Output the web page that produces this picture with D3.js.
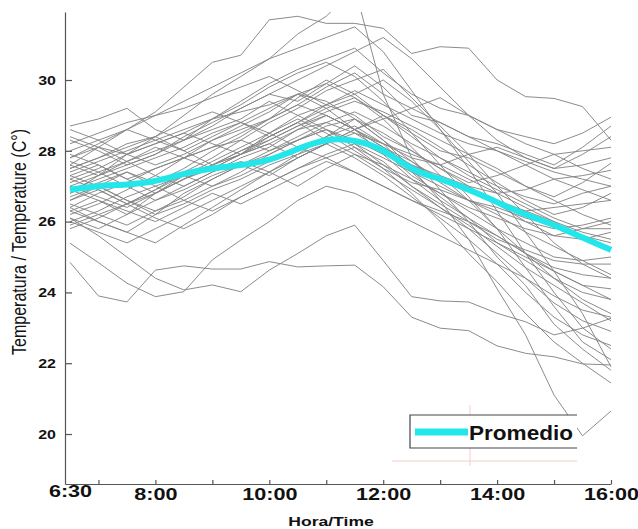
<!DOCTYPE html>
<html>
<head>
<meta charset="utf-8">
<script src="https://cdn.jsdelivr.net/npm/d3@7/dist/d3.min.js"></script>
<style>
  html, body { margin: 0; padding: 0; background: #ffffff; }
  svg { display: block; }
  text { font-family: "Liberation Sans", Arial, Helvetica, sans-serif; fill: #111; }
</style>
</head>
<body>
<div id="chart"></div>
<script>
// ---------- data ----------
const times = ["6:30","7:00","7:30","8:00","8:30","9:00","9:30","10:00","10:30","11:00",
               "11:30","12:00","12:30","13:00","13:30","14:00","14:30","15:00","15:30","16:00"];

const meanTemps = [26.9,27.0,27.05,27.15,27.35,27.5,27.6,27.75,28.05,28.3,
                   28.28,28.0,27.5,27.2,26.9,26.55,26.2,25.9,25.55,25.2];

const series = [
  [27.6,28.1,28.6,29.1,29.8,30.5,30.7,31.7,31.8,31.6,31.6,31.46,30.75,30.94,30.9,30.0,29.53,29.48,29.25,28.3],
  [26.8,27.3,27.9,28.4,29.0,29.6,30.1,30.6,31.3,31.8,32.6,29.6,27.8,26.9,26.0,25.0,24.2,23.1,22.4,21.8],
  [24.85,23.9,23.73,24.63,24.75,24.66,24.66,24.87,24.72,24.75,24.77,24.16,23.3,22.99,22.92,22.49,22.28,22.18,21.98,21.95],
  [25.39,24.84,24.26,23.88,24.02,24.92,25.48,26.0,26.6,27.0,26.8,26.4,26.0,25.6,25.2,24.8,24.4,23.9,23.5,23.3],
  [26.1,25.6,25.0,24.4,24.07,24.21,24.02,24.63,25.1,25.6,25.9,24.9,23.88,23.76,23.73,23.41,23.17,22.8,22.99,23.27],
  [27.2,27.5,27.9,28.2,28.5,28.9,29.1,29.3,29.6,29.4,28.9,28.3,27.5,26.6,25.5,24.1,22.8,21.1,19.95,20.65],
  [26.4,26.0,25.7,26.2,26.8,27.2,27.6,27.9,28.3,28.6,28.1,27.5,26.8,26.0,25.1,24.3,23.4,22.6,22.0,21.44],
  [28.7,28.9,29.2,28.6,28.3,28.9,29.4,29.9,30.3,30.6,30.9,30.2,29.6,29.2,29.0,28.6,28.4,28.2,28.5,28.95],
  [28.3,28.0,27.6,27.9,28.4,28.8,29.2,29.6,29.4,29.9,30.4,29.8,29.0,28.8,28.4,28.2,27.9,27.6,28.1,28.7],
  [27.9,27.6,27.2,27.5,27.8,28.1,28.3,28.0,28.4,28.8,28.5,28.2,27.8,27.6,27.9,28.1,27.8,27.5,27.9,28.4],
  [27.5,27.8,28.2,28.4,28.0,27.6,27.9,28.5,29.0,29.3,29.0,28.4,28.0,27.5,27.1,27.3,27.6,27.9,28.0,28.1],
  [26.6,27.0,27.4,27.1,27.5,28.0,28.4,28.9,29.5,30.0,29.6,29.0,28.5,28.0,27.8,27.4,27.0,26.7,27.1,27.65],
  [27.1,27.4,27.7,28.0,28.3,28.6,28.9,29.4,29.0,28.6,28.3,27.9,27.6,27.3,27.0,26.8,26.9,27.2,27.3,27.45],
  [26.3,26.6,26.2,26.8,27.3,27.6,27.9,28.2,28.6,28.8,29.1,28.7,28.2,27.8,27.4,27.0,26.7,26.5,26.8,27.0],
  [27.8,28.1,27.7,27.3,27.0,27.4,27.8,28.1,28.6,29.0,28.6,28.1,27.7,27.2,26.9,26.5,26.3,26.4,26.5,26.6],
  [26.0,26.3,26.7,27.0,27.3,27.0,27.4,27.9,28.3,28.7,28.9,28.3,27.7,27.1,26.6,26.3,26.0,25.8,25.9,26.1],
  [27.3,27.0,26.6,26.3,26.7,27.2,27.6,27.3,27.8,28.2,28.5,28.0,27.3,26.8,26.4,26.1,25.8,25.6,25.5,25.7],
  [26.9,27.2,27.5,27.8,28.1,28.5,28.8,28.5,28.1,27.8,27.4,27.0,26.6,26.3,26.0,25.5,25.2,24.9,24.8,24.8],
  [26.2,26.5,26.9,27.3,27.8,28.3,28.7,29.1,29.6,29.2,28.6,27.9,27.2,26.6,26.1,25.6,25.1,24.7,24.5,24.4],
  [27.7,27.4,27.0,26.6,26.9,27.3,27.6,28.0,28.3,28.6,28.2,27.6,27.0,26.5,26.0,25.6,25.1,24.6,24.2,24.1],
  [26.5,26.2,25.9,26.3,26.6,27.0,27.3,27.7,28.0,28.4,28.7,28.2,27.4,26.7,26.1,25.4,24.9,24.4,24.0,23.8],
  [27.0,26.7,26.4,26.8,27.2,27.5,27.9,28.4,28.8,29.2,29.5,28.9,28.1,27.3,26.6,25.8,25.1,24.4,23.8,23.4],
  [25.9,26.2,26.5,26.1,25.8,26.2,26.7,27.1,27.5,27.8,28.1,27.7,27.0,26.4,25.8,25.1,24.4,23.7,23.2,22.9],
  [26.7,27.0,26.6,26.2,26.5,26.9,27.2,27.6,27.9,28.2,27.8,27.3,26.7,26.1,25.5,24.8,24.0,23.3,22.8,22.5],
  [27.4,27.7,28.0,28.3,28.6,28.9,29.3,29.8,30.2,30.5,30.1,29.4,28.5,27.6,26.7,25.8,24.7,23.6,22.6,22.1],
  [28.2,28.5,28.8,29.0,29.2,29.5,29.8,30.1,29.7,29.3,29.6,30.0,29.4,28.6,27.7,26.8,25.7,24.6,23.4,21.9],
  [27.0,27.3,27.6,27.9,28.3,28.7,29.2,29.6,30.0,30.4,30.8,31.2,30.6,29.8,29.0,28.3,27.8,27.5,27.6,27.8],
  [26.4,26.8,27.1,27.5,27.8,28.1,28.5,28.9,29.3,29.8,30.2,29.6,29.2,29.5,29.0,28.6,28.2,27.9,27.5,27.2],
  [28.4,28.1,27.9,28.2,28.5,28.2,27.9,28.3,28.7,29.1,29.4,29.1,28.7,28.3,27.9,27.5,27.0,26.6,26.2,25.9],
  [25.8,26.1,26.5,26.9,27.3,27.7,28.1,28.5,28.9,28.5,28.0,27.5,27.1,26.9,26.6,26.4,26.1,25.9,25.6,25.4],
  [27.6,27.3,27.7,28.1,27.8,27.5,27.9,28.2,27.8,28.2,28.6,28.1,27.6,27.2,26.9,26.6,26.3,26.0,25.7,25.5],
  [26.6,26.9,26.5,26.8,27.2,27.6,28.0,28.3,28.7,29.0,28.6,28.2,27.9,27.6,27.2,26.8,26.4,26.0,25.5,25.2],
  [27.2,26.9,26.5,26.9,27.4,27.8,28.3,28.8,29.2,29.7,30.0,30.3,29.5,28.7,27.9,27.0,26.2,25.4,24.8,24.4],
  [28.0,28.3,28.6,28.3,28.0,28.4,28.8,29.2,29.6,29.9,29.5,29.0,28.4,27.8,27.3,26.9,26.5,26.1,25.8,25.8],
  [26.1,25.8,26.2,26.6,27.0,27.4,27.7,27.4,27.0,27.5,27.9,27.6,27.2,26.8,26.3,25.8,25.4,25.0,24.9,25.0],
  [27.5,27.8,28.1,28.4,28.8,29.1,28.8,28.4,28.8,29.3,29.7,29.3,28.9,28.5,28.2,28.0,27.7,27.4,27.2,27.0],
  [26.3,26.0,25.7,25.4,25.9,26.4,26.9,27.4,27.9,28.4,28.9,28.5,28.0,27.5,27.0,26.5,26.0,25.6,25.8,26.0],
  [26.8,27.1,27.4,27.0,26.6,26.3,26.7,27.1,27.5,27.9,28.2,27.8,27.4,27.0,26.6,26.2,25.7,25.3,24.9,24.5],
  [27.3,27.6,27.2,26.8,27.2,27.6,28.0,28.4,28.8,28.3,27.9,27.4,26.9,26.4,25.9,25.3,24.7,24.2,23.7,23.2],
  [27.8,28.2,28.6,29.0,29.4,29.8,30.2,30.6,30.9,31.2,31.5,30.8,29.7,28.6,27.5,26.3,25.1,24.0,23.0,22.4],
  [26.0,25.7,25.4,25.8,26.2,26.6,27.0,27.4,27.8,28.2,28.6,29.0,28.6,28.1,27.6,27.1,26.6,26.2,26.4,26.8],
  [28.6,28.3,27.9,27.6,27.9,28.3,28.6,28.9,29.3,29.0,28.6,28.9,29.2,28.8,28.4,28.0,27.6,27.2,26.9,26.6],
  [26.9,26.6,26.3,26.0,26.4,26.8,26.5,26.9,27.3,27.7,27.4,27.0,26.6,26.2,25.8,25.4,25.0,24.6,24.2,23.8]
];

const xTickHours = [7,8,9,10,11,12,13,14,15,16];
const xTickLabels = ["6:30","8:00","10:00","12:00","14:00","16:00"];
const yTicks = [20,22,24,26,28,30];
const legendLabel = "Promedio";
const xTitle = "Hora/Time";
const yTitle = "Temperatura / Temperature (C\u00B0)";

// ---------- layout ----------
const W = 638, H = 529;
const STRETCH = 1.35;
const parseHour = s => { const [h, m] = s.split(":").map(Number); return h + m / 60; };

const x = d3.scaleLinear().domain([6.4123, 16]).range([65, 611]);
const y = d3.scaleLinear().domain([18.588, 31.921]).range([484, 12]);

const svg = d3.select("#chart").append("svg")
  .attr("width", W).attr("height", H);

svg.append("defs").append("clipPath").attr("id", "plotclip")
  .append("rect").attr("x", 65).attr("y", 12).attr("width", 550).attr("height", 472);

// gray station lines
const line = d3.line()
  .x((d, i) => x(parseHour(times[i])))
  .y(d => y(d));

const plot = svg.append("g").attr("clip-path", "url(#plotclip)");
plot.selectAll("path.station").data(series).join("path")
  .attr("class", "station")
  .attr("d", line)
  .attr("fill", "none")
  .attr("stroke", "#858585")
  .attr("stroke-width", 0.95)
  .attr("stroke-linejoin", "round");

// mean line
const meanLine = d3.line()
  .x((d, i) => x(parseHour(times[i])))
  .y(d => y(d))
  .curve(d3.curveNatural);
plot.append("path").datum(meanTemps)
  .attr("d", meanLine)
  .attr("fill", "none")
  .attr("stroke", "#22e6ea")
  .attr("stroke-width", 6)
  .attr("stroke-linecap", "butt");

// ---------- axes ----------
const xAxis = d3.axisBottom(x)
  .tickValues([6.5, ...xTickHours])
  .tickSizeInner(-4).tickSizeOuter(0)
  .tickFormat(h => {
    if (h === 6.5) return xTickLabels[0];
    if (h % 2 === 0) return xTickLabels[(h - 6) / 2];
    return "";
  });
const gx = svg.append("g").attr("transform", "translate(0,484)").call(xAxis);
gx.select(".domain").attr("stroke", "#555").attr("stroke-width", 1.2);
gx.selectAll(".tick line").attr("stroke", "#555").attr("stroke-width", 1.2)
  .attr("display", d => d === 6.5 ? "none" : null);
gx.selectAll(".tick text")
  .attr("y", d => d === 6.5 ? 13 : 16)
  .attr("dy", 0)
  .attr("transform", `scale(${STRETCH},1)`)
  .style("font-size", "16px").style("font-weight", "bold").attr("fill", "#111");

const yAxis = d3.axisLeft(y).tickValues(yTicks).tickSizeInner(-7).tickSizeOuter(0).tickFormat(d => d);
const gy = svg.append("g").attr("transform", "translate(65,0)").call(yAxis);
gy.select(".domain").attr("stroke", "#555").attr("stroke-width", 1.2);
gy.selectAll(".tick line").attr("stroke", "#555").attr("stroke-width", 1.2);
gy.selectAll(".tick text")
  .attr("x", 0).attr("dy", "0.36em")
  .attr("text-anchor", "end")
  .attr("transform", `translate(-9,0) scale(${STRETCH - 0.02},1)`)
  .style("font-size", "12px").style("font-weight", "bold").attr("fill", "#111");

// axis titles
svg.append("text")
  .attr("transform", `translate(331,526) scale(${STRETCH},1)`)
  .attr("text-anchor", "middle")
  .style("font-size", "13px").style("font-weight", "bold")
  .text(xTitle);

svg.append("text")
  .attr("transform", `translate(26,242) rotate(-90) scale(1,${STRETCH})`)
  .attr("text-anchor", "middle")
  .attr("textLength", 226).attr("lengthAdjust", "spacingAndGlyphs")
  .style("font-size", "15px")
  .text(yTitle);

// ---------- faint artefact guides ----------
svg.append("line").attr("x1", 392).attr("x2", 577).attr("y1", 461).attr("y2", 461)
  .attr("stroke", "#f6cccc").attr("stroke-width", 1);
svg.append("line").attr("x1", 470).attr("x2", 470).attr("y1", 405).attr("y2", 466)
  .attr("stroke", "#f6cccc").attr("stroke-width", 1);

// ---------- legend ----------
const lg = svg.append("g");
lg.append("rect").attr("x", 410).attr("y", 415).attr("width", 167).attr("height", 33).attr("fill", "#fff");
lg.append("path").attr("d", "M577,415H410V448H577")
  .attr("fill", "none").attr("stroke", "#444").attr("stroke-width", 1.2);
lg.append("line").attr("x1", 415).attr("x2", 468).attr("y1", 432).attr("y2", 432)
  .attr("stroke", "#22e6ea").attr("stroke-width", 7);
lg.append("text")
  .attr("x", 469).attr("y", 440)
  .attr("textLength", 104).attr("lengthAdjust", "spacingAndGlyphs")
  .style("font-size", "21px").style("font-weight", "bold")
  .text(legendLabel);
</script>
</body>
</html>
